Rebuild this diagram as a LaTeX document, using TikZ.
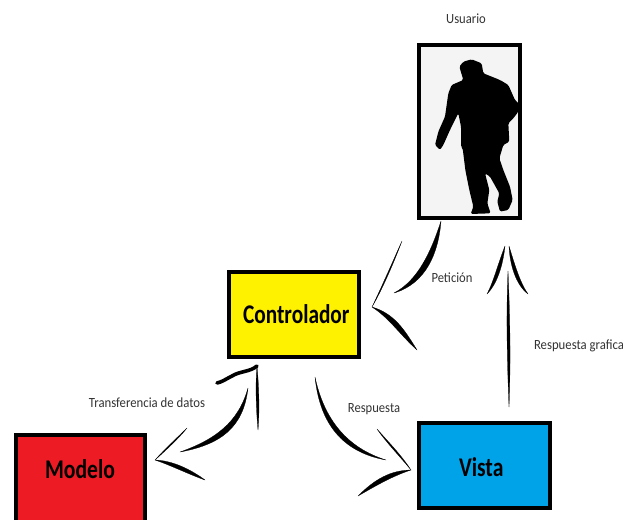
\documentclass[tikz,border=0pt]{standalone}
\usepackage{fontspec}
\setmainfont{Carlito}
\usetikzlibrary{calc}
\definecolor{ctrlyellow}{HTML}{FFF200}
\definecolor{modelred}{HTML}{ED1C24}
\definecolor{viewblue}{HTML}{00A2E8}
\definecolor{labelgrey}{HTML}{333333}
\definecolor{userbg}{HTML}{F4F4F4}
\tikzset{
  boxnode/.style={draw=black,line width=4pt,minimum width=#1,inner sep=0pt,font=\bfseries\fontsize{27}{27}\selectfont},
  lbl/.style={text=labelgrey,inner sep=0pt,font=\fontsize{14}{15}\selectfont},
  brush/.style={fill=black,draw=black,line width=.25pt,line join=round}
}
% tapered brush stroke: start, control 1, control 2, end, half-width offset
\newcommand{\brushstroke}[5]{%
  \path[brush] (#1) .. controls ($(#2)+(#5)$) and ($(#3)+(#5)$) .. (#4)
     .. controls ($(#3)-(#5)$) and ($(#2)-(#5)$) .. (#1) -- cycle;}
\newcommand{\nar}[2]{\scalebox{#1}[1]{#2}}
\begin{document}
\begin{tikzpicture}[x=1pt,y=-1pt]
\clip (0,0) rectangle (623,519);
\fill[white] (0,0) rectangle (623,519);

% boxes
\node[boxnode=101.5pt,fill=userbg,minimum height=173.5pt] (usuario) at (469.5,131.5) {};
\node[boxnode=130pt,fill=ctrlyellow,minimum height=85.5pt] (controlador) at (293.5,314.5) {\nar{.79}{\kern7pt Controlador}};
\node[boxnode=129pt,fill=modelred,minimum height=87pt] (modelo) at (80,478) {\raisebox{0pt}[0pt][0pt]{\nar{.8}{Modelo}}};
\node[boxnode=131pt,fill=viewblue,minimum height=85.5pt] (vista) at (484,465.5) {\raisebox{-10.5pt}[0pt][0pt]{\nar{.8}{\kern-7pt Vista}}};

% silhouette
\begin{scope}[shift={(400,30)},x=.3333pt,y=-.3333pt]
\fill[black,rounded corners=1.5pt] (215,88) -- (245,100) -- (250,130) -- (300,150) -- (325,165) -- (345,210) -- (360,225) -- (355,245) -- (340,265) -- (325,280) -- (328,335) -- (310,345) -- (298,385) -- (310,420) -- (330,470) -- (338,510) -- (325,540) -- (300,545) -- (292,515) -- (298,490) -- (270,440) -- (255,430) -- (268,480) -- (262,520) -- (272,550) -- (212,552) -- (220,530) -- (208,480) -- (196,420) -- (188,355) -- (183,350) -- (183,290) -- (175,250) -- (150,300) -- (130,345) -- (120,360) -- (105,345) -- (115,305) -- (135,260) -- (145,190) -- (155,165) -- (190,150) -- (178,110) -- (190,95) -- cycle;
\end{scope}

% labels
\node[lbl] (lusuario) at (466,19) {\nar{.9}{Usuario}};
\node[lbl] (lpeticion) at (452,278) {\nar{.9}{Petición}};
\node[lbl] (lgrafica) at (579,346) {\nar{.91}{Respuesta grafica}};
\node[lbl] (ltransfer) at (147,403) {\nar{.91}{Transferencia de datos}};
\node[lbl] (lrespuesta) at (374,409) {\nar{.9}{Respuesta}};

% named stroke ends
\coordinate (uA) at (441,221);
\coordinate (cA) at (394,293);
\coordinate (cTip) at (372,307);
\coordinate (cTop) at (402,241);
\coordinate (cLow) at (417,350);
\coordinate (vA) at (509,407);
\coordinate (uB) at (508,271);
\coordinate (uTipL) at (505,246);
\coordinate (uTipR) at (509,246);
\coordinate (uL) at (487,294);
\coordinate (uR) at (528,294);
\coordinate (cB) at (248,388);
\coordinate (mA) at (180,452);
\coordinate (mTip) at (155,460);
\coordinate (mTop) at (187,428);
\coordinate (mLow) at (205,480);
\coordinate (mB) at (258,430);
\coordinate (cC) at (257,366);
\coordinate (cEnd) at (217,383);
\coordinate (cD) at (315,377);
\coordinate (vB) at (386,460);
\coordinate (vTip) at (411,470);
\coordinate (vTop) at (377,429);
\coordinate (vLow) at (358,496);

% usuario -> controlador
\brushstroke{uA}{435,252}{422,282}{cA}{3.5,1.8}
\brushstroke{cTip}{382,288}{392,265}{cTop}{.7,.3}
\brushstroke{cTip}{392,316}{402,332}{cLow}{2.4,-2.4}
% vista -> usuario
\brushstroke{vA}{509,360}{508,315}{uB}{1.9,0}
\brushstroke{uTipL}{501,262}{496,282}{uL}{2.2,.8}
\brushstroke{uTipR}{512,264}{518,284}{uR}{-2.2,.8}
% controlador -> modelo
\brushstroke{cB}{241,425}{218,442}{mA}{2.6,2.6}
\brushstroke{mTip}{166,449}{178,438}{mTop}{.6,.6}
\brushstroke{mTip}{172,463}{190,472}{mLow}{-1,2.4}
% modelo -> controlador
\brushstroke{mB}{258,410}{257,385}{cC}{1.8,0}
\draw[black,line width=3.6pt,line cap=round,line join=round] (cC) .. controls (250,372) and (240,371) .. (232,376) .. controls (226,379) and (222,382) .. (cEnd);
% controlador -> vista
\brushstroke{cD}{322,422}{345,450}{vB}{-2.2,2.2}
\brushstroke{vTip}{400,455}{388,443}{vTop}{.7,-.7}
\brushstroke{vTip}{392,473}{376,482}{vLow}{1.3,2.8}
\useasboundingbox (0,0) rectangle (623,519);
\end{tikzpicture}
\end{document}
